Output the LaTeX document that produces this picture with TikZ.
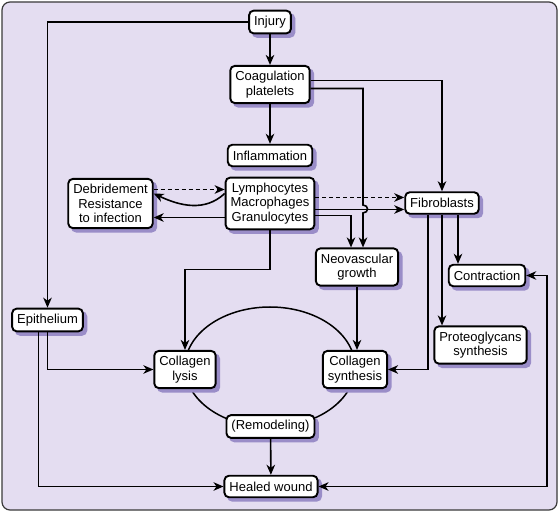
\documentclass[tikz,border=0pt]{standalone}
\usepackage{fontspec}
\setmainfont{Liberation Sans}
\usetikzlibrary{arrows.meta}
\definecolor{bgpurple}{HTML}{E4DDF1}
\definecolor{shadowpurple}{HTML}{9A8DC8}
\definecolor{framegray}{HTML}{3A3A3A}
\tikzset{wtip/.tip={Stealth[length=10pt,width=8.5pt,inset=3pt]}}
\begin{document}
\begin{tikzpicture}[x=1pt,y=-1pt,
 box/.style={draw,line width=1.9pt,rounded corners=4.5pt,fill=white,align=center,
  font=\fontsize{13}{14.5}\selectfont,inner xsep=5pt,inner ysep=5.3pt,minimum height=21.5pt,
  preaction={draw=shadowpurple,fill=shadowpurple,transform canvas={shift={(3.5pt,-3.5pt)}}}},
 arr/.style={line width=1.6pt,-wtip},
 both/.style={line width=1.6pt,wtip-wtip},
 dashline/.style={dash pattern=on 4pt off 3pt}]
 \useasboundingbox (0,0) rectangle (560,513);
 \draw[rounded corners=8pt,fill=bgpurple,draw=framegray,line width=1.2pt](2,2) rectangle (557,510);
 % remodeling cycle
 \draw[line width=1.5pt](270,367) ellipse [x radius=85,y radius=60];
 % boxes
 \node[box] (injury) at (270,22) {Injury};
 \node[box] (coag) at (270,84.5) {Coagulation\\platelets};
 \node[box] (inflam) at (270,155.5) {Inflammation};
 \node[box] (lymph) at (270,203.5) {Lymphocytes\\Macrophages\\Granulocytes};
 \node[box] (debr) at (110.5,203.5) {Debridement\\Resistance\\to infection};
 \node[box] (fibro) at (442,203) {Fibroblasts};
 \node[box] (neo) at (357,267) {Neovascular\\growth};
 \node[box] (contr) at (487,275.5) {Contraction};
 \node[box] (proteo) at (480.5,345) {Proteoglycans\\synthesis};
 \node[box] (csyn) at (355,369.5) {Collagen\\synthesis};
 \node[box] (clys) at (185,369.5) {Collagen\\lysis};
 \node[box] (epi) at (47.5,320) {Epithelium};
 \node[box] (remod) at (270.5,426.5) {(Remodeling)};
 \node[box] (healed) at (271,486.5) {Healed wound};
 % connectors
 \draw[arr](injury) -- (coag);
 \draw[arr](injury.west) -| (epi.north);
 \draw[arr](coag) -- (inflam);
 \draw[arr]([yshift=4pt]coag.east) -| (fibro.north);
 \draw[arr]([yshift=-4pt]coag.east) -| (363,205) .. controls (369,205) and (369,213) .. (363,213) -- ([xshift=6pt]neo.north);
 \draw[arr,dashline]([yshift=6pt]lymph.east) -- ([yshift=6pt]lymph.east -| fibro.west);
 \draw[arr]([yshift=-6pt]lymph.east) -- ([yshift=-6pt]lymph.east -| fibro.west);
 \draw[arr]([yshift=-12pt]lymph.east) -| ([xshift=-6pt]neo.north);
 \draw[arr]([yshift=-14pt]lymph.west) -- ([yshift=-14pt]debr.east);
 \draw[arr,dashline]([yshift=14pt]debr.east) -- ([yshift=14pt]lymph.west);
 \draw[arr]([yshift=10pt]lymph.west) .. controls (205,212) and (180,206) .. ([yshift=10pt]debr.east);
 \draw[arr](lymph.south) -- ++(0,39) -| (clys.north);
 \draw[arr](epi.south) |- (clys.west);
 \draw[arr]([xshift=-9pt]epi.south) |- (healed.west);
 \draw[arr](remod) -- (healed);
 \draw[arr](neo.south) -- (neo.south |- csyn.north);
 \draw[arr]([xshift=-14pt]fibro.south) |- (csyn.east);
 \draw[arr](fibro.south) -- (fibro.south |- proteo.north);
 \draw[arr]([xshift=16pt]fibro.south) -- ([xshift=16pt]fibro.south |- contr.north);
 \draw[both](contr.east) -- ++(21,0) |- (healed.east);
\end{tikzpicture}
\end{document}
